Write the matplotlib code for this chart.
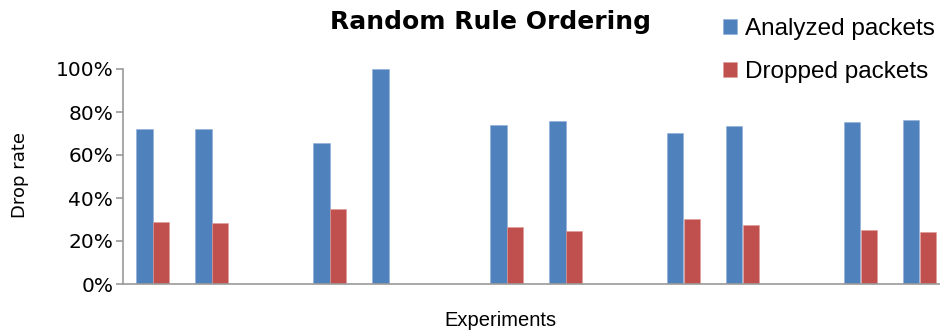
import numpy as np
import matplotlib.pyplot as plt

# data (fraction); None = no bar
analyzed = [0.72, 0.72, None, 0.656, 1.00, None, 0.74, 0.758, None, 0.702, 0.735, None, 0.753, 0.763]
dropped = [0.288, 0.284, None, 0.349, None, None, 0.265, 0.247, None, 0.302, 0.274, None, 0.251, 0.242]
y_ticks = [0, 0.2, 0.4, 0.6, 0.8, 1.0]
y_ticklabels = ['0%', '20%', '40%', '60%', '80%', '100%']

blue = '#4F81BD'
red = '#C0504D'

a = np.array([np.nan if v is None else v for v in analyzed])
d = np.array([np.nan if v is None else v for v in dropped])
x = np.arange(len(a))
w = 0.28

fig = plt.figure(figsize=(9.4, 3.34), dpi=100)
ax = fig.add_axes([123 / 940, 50 / 334, 826 / 940, 215 / 334])

b1 = ax.bar(x - w / 2, a, w, color=blue, edgecolor='#8fb0d8', linewidth=0.4, label='Analyzed packets')
b2 = ax.bar(x + w / 2, d, w, color=red, edgecolor='#e09a98', linewidth=0.4, label='Dropped packets')

ax.set_xlim(-0.5, len(a) - 0.5)
ax.set_ylim(0, 1.0)
ax.set_yticks(y_ticks)
ax.set_yticklabels(y_ticklabels, fontsize=14.5, family='DejaVu Sans')
ax.set_xticks([])
for s in ['top', 'right']:
    ax.spines[s].set_visible(False)
for s in ['left', 'bottom']:
    ax.spines[s].set_color('#9a9a9a')
    ax.spines[s].set_linewidth(1.2)
ax.tick_params(axis='y', length=5, color='#9a9a9a', width=1.2, pad=2)

fig.text(20 / 940, 1 - 175 / 334, 'Drop rate', rotation=90, ha='center', va='center',
         fontsize=13, family='DejaVu Sans')
fig.text(500 / 940, 1 - 321 / 334, 'Experiments', ha='center', va='center',
         fontsize=14.5, family='Liberation Sans')
fig.text(490 / 940, 1 - 22 / 334, 'Random Rule Ordering', ha='center', va='center',
         fontsize=18, fontweight='bold', family='DejaVu Sans')

fig.legend(handles=[b1, b2], loc='upper left', bbox_to_anchor=(723 / 940, 1 - 18 / 334),
           frameon=False, prop={'family': 'Liberation Sans', 'size': 17.5},
           handlelength=0.57, handleheight=0.57, handletextpad=0.35, labelspacing=0.85,
           borderaxespad=0, borderpad=0)

fig.savefig('out.png', dpi=100)
